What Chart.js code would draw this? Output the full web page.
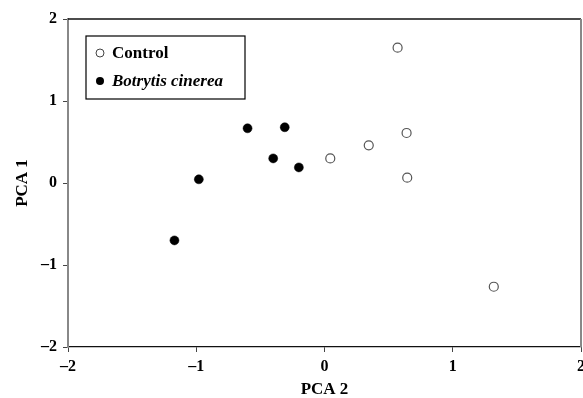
<!DOCTYPE html>
<html><head><meta charset="utf-8">
<script src="https://cdn.jsdelivr.net/npm/chart.js@4"></script>
<style>html,body{margin:0;padding:0;background:#fff;} canvas{display:block}</style>
</head><body>
<canvas id="c" width="583" height="398"></canvas>
<script>
const seriesNames = ['Control', 'Botrytis cinerea'];
const controlX = [0.045, 0.345, 0.57, 0.64, 0.645, 1.32];
const controlY = [0.30, 0.46, 1.65, 0.61, 0.065, -1.265];
const botrytisX = [-0.60, -0.31, -0.40, -0.20, -0.98, -1.17];
const botrytisY = [0.667, 0.68, 0.30, 0.19, 0.045, -0.70];
const xTicks = [-2, -1, 0, 1, 2];
const yTicks = [-2, -1, 0, 1, 2];
const xTitle = 'PCA 2';
const yTitle = 'PCA 1';

const FAMILY = "'Liberation Serif', 'Times New Roman', serif";
const fmt = v => (v < 0 ? '\u2013' + Math.abs(v) : String(v));
const toPts = (xs, ys) => xs.map((x, i) => ({x: x, y: ys[i]}));

const framePlugin = {
  id: 'frame',
  beforeDatasetsDraw(chart) {
    const {ctx, chartArea: a} = chart;
    ctx.save();
    ctx.lineWidth = 1.3;
    ctx.strokeStyle = '#111';
    ctx.beginPath(); ctx.moveTo(a.left, a.top); ctx.lineTo(a.right, a.top); ctx.stroke();
    ctx.strokeStyle = '#888';
    ctx.lineWidth = 2;
    ctx.beginPath(); ctx.moveTo(a.right, a.top); ctx.lineTo(a.right, a.bottom); ctx.stroke();
    ctx.restore();
  }
};

const legendPlugin = {
  id: 'boxLegend',
  afterDraw(chart) {
    const {ctx, chartArea: a} = chart;
    const x0 = a.left + 18, y0 = a.top + 17, w = 159, h = 63;
    ctx.save();
    ctx.strokeStyle = '#000';
    ctx.lineWidth = 1.2;
    ctx.strokeRect(x0, y0, w, h);
    const styles = ['bold', 'italic bold'];
    chart.data.datasets.forEach((ds, i) => {
      const cy = y0 + 17 + i * 28;
      const cx = x0 + 14;
      ctx.beginPath();
      ctx.arc(cx, cy, 4, 0, Math.PI * 2);
      if (i === 0) { ctx.fillStyle = '#fff'; ctx.fill(); ctx.strokeStyle = '#444'; ctx.lineWidth = 1; ctx.stroke(); }
      else { ctx.fillStyle = '#000'; ctx.fill(); }
      ctx.fillStyle = '#000';
      ctx.font = styles[i] + ' 17px ' + FAMILY;
      ctx.textBaseline = 'middle';
      ctx.textAlign = 'left';
      ctx.fillText(ds.label, x0 + 26, cy + 1);
    });
    ctx.restore();
  }
};

const tickFont = {family: FAMILY, size: 16, weight: 'bold'};
const titleFont = {family: FAMILY, size: 17, weight: 'bold'};

new Chart(document.getElementById('c'), {
  type: 'scatter',
  data: {
    datasets: [
      {label: seriesNames[0], data: toPts(controlX, controlY), pointStyle: 'circle', pointRadius: 4.5,
       backgroundColor: '#fff', borderColor: '#555', borderWidth: 1.2, pointHoverRadius: 4.5},
      {label: seriesNames[1], data: toPts(botrytisX, botrytisY), pointStyle: 'circle', pointRadius: 4.5,
       backgroundColor: '#000', borderColor: '#000', borderWidth: 0.5, pointHoverRadius: 4.5}
    ]
  },
  options: {
    responsive: false,
    animation: false,
    events: [],
    layout: {autoPadding: false, padding: {top: 19, right: 2, left: 0, bottom: 0}},
    plugins: {legend: {display: false}, tooltip: {enabled: false}},
    scales: {
      x: {
        type: 'linear', position: 'bottom', min: -2, max: 2,
        afterBuildTicks: s => { s.ticks = xTicks.map(v => ({value: v})); },
        afterFit: s => { s.height = 51; s.paddingLeft = 0; s.paddingRight = 0; },
        ticks: {callback: v => fmt(v), font: tickFont, color: '#000', padding: 5, maxRotation: 0, autoSkip: false},
        grid: {drawOnChartArea: false, drawTicks: true, tickLength: 5, color: '#444', lineWidth: 1},
        border: {color: '#111', width: 1.3},
        title: {display: true, text: xTitle, font: titleFont, color: '#000', padding: {top: 0, bottom: -2}}
      },
      y: {
        type: 'linear', position: 'left', min: -2, max: 2,
        afterBuildTicks: s => { s.ticks = yTicks.map(v => ({value: v})); },
        afterFit: s => { s.width = 68; s.paddingTop = 0; s.paddingBottom = 0; },
        ticks: {callback: v => fmt(v), font: tickFont, color: '#000', padding: 6, autoSkip: false},
        grid: {drawOnChartArea: false, drawTicks: true, tickLength: 5, color: '#444', lineWidth: 1},
        border: {color: '#888', width: 2},
        title: {display: true, text: yTitle, font: titleFont, color: '#000', padding: {top: 12, bottom: 0}}
      }
    }
  },
  plugins: [framePlugin, legendPlugin]
});
</script>
</body></html>
